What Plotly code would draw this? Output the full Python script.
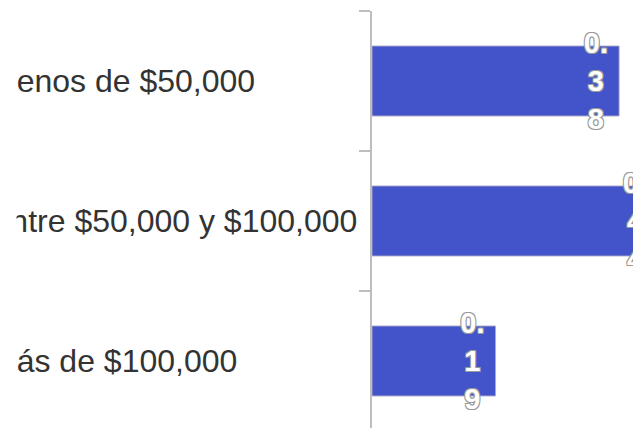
import plotly.graph_objects as go

# ---- data ----
categories = ["Menos de $50,000", "Entre $50,000 y $100,000", "Más de $100,000"]
values = [0.38, 0.44, 0.19]


def stacked_label(v):
    s = f"{v:.2f}"
    parts = [s[:2]] + list(s[2:])
    # one trailing no-break space per line moves the stacked digits a bit away from the bar end
    return "<br>".join(p + "\u00a0" for p in parts)


bar_text = [stacked_label(v) for v in values]

fig = go.Figure(
    go.Bar(
        y=categories,
        x=values,
        orientation="h",
        width=0.5,
        marker=dict(color="#4353CA", line=dict(color="rgba(170,170,200,0.9)", width=1)),
        text=bar_text,
        textposition="inside",
        insidetextanchor="end",
        textangle=0,
        constraintext="none",
        textfont=dict(
            family="Liberation Sans, Arial, sans-serif",
            size=29,
            color="white",
            weight="bold",
            shadow="1px 1px 0 #9a9a9a, -1px -1px 0 #9a9a9a, 1px -1px 0 #9a9a9a, -1px 1px 0 #9a9a9a",
        ),
        hoverinfo="skip",
    )
)

# category labels, left-aligned as in the reference (cut off at the left edge)
label_shifts = [-384, -385, -384]
for cat, sh in zip(categories, label_shifts):
    fig.add_annotation(
        x=0, xref="paper", y=cat, yref="y",
        text=cat, showarrow=False, xanchor="left", yanchor="middle",
        xshift=sh,
        font=dict(family="Liberation Sans, Arial, sans-serif", size=32, color="#333333"),
    )

# the reference's label column is clipped a little inside the left edge
fig.add_annotation(
    x=0, xref="paper", y=0.5, yref="paper",
    text=" ", showarrow=False, xanchor="left", yanchor="middle",
    xshift=-372, width=15, height=440, borderpad=0,
    bgcolor="white",
)

fig.update_layout(
    width=641,
    height=428,
    margin=dict(l=364, r=0, t=3, b=0),
    paper_bgcolor="white",
    plot_bgcolor="white",
    showlegend=False,
    xaxis=dict(range=[0, 0.426], visible=False, showgrid=False, zeroline=False),
    yaxis=dict(
        categoryorder="array",
        categoryarray=categories,
        range=[2.536, -0.5],
        showticklabels=False,
        showgrid=False,
        zeroline=False,
        showline=True,
        linecolor="#bdbdbd",
        linewidth=2,
        ticks="outside",
        tickson="boundaries",
        ticklen=11,
        tickwidth=2,
        tickcolor="#bdbdbd",
    ),
)

fig.write_html("out.html")
